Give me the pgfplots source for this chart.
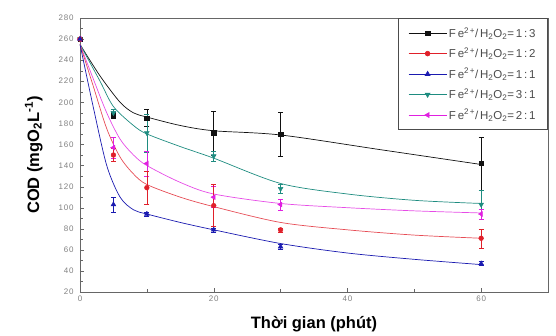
\documentclass[border=0pt]{standalone}
\usepackage{pgfplots}
\pgfplotsset{compat=1.18}
\usepackage{fontspec}
\setmainfont{Liberation Sans}
\newfontfamily\spaced[LetterSpace=10]{Liberation Sans}
\newfontfamily\lspaced[LetterSpace=16]{Liberation Sans}
\definecolor{cblack}{HTML}{111111}
\definecolor{cred}{HTML}{E0202A}
\definecolor{cblue}{HTML}{1A1AB0}
\definecolor{cteal}{HTML}{1E8C80}
\definecolor{cmag}{HTML}{E020E0}
\begin{document}
\begin{tikzpicture}
\path[use as bounding box] (-80pt,-43pt) rectangle (476pt,292pt);
\begin{axis}[
  at={(0,0)}, anchor=south west,
  scale only axis, width=468pt, height=274pt,
  xmin=0, xmax=70, ymin=20, ymax=280,
  xtick={0,20,40,60}, ytick={20,40,...,280},
  minor x tick num=1, minor y tick num=1,
  tick align=inside, xtick pos=bottom, ytick pos=left,
  axis line style={draw=black!60, line width=0.8pt},
  tick style={black!60},
  tick label style={font=\spaced\fontsize{8}{9}\selectfont, text=black!50},
  /pgf/number format/assume math mode=true,
  yticklabel style={xshift=-3pt},
  xlabel={\textbf{Thời gian (phút)}},
  ylabel={\textbf{COD (mgO\textsubscript{2}L\textsuperscript{-1})}},
  label style={font=\fontsize{16.5}{18}\selectfont},
  xlabel style={yshift=-8pt},
  ylabel style={yshift=9pt},
  legend style={at={(1,1)}, anchor=north east, draw=black!70, line width=0.8pt,
    font=\lspaced\fontsize{11.5}{13}\selectfont, text=black!70, row sep=5pt, inner xsep=10pt, inner ysep=7pt},
  legend cell align=left,
  legend image code/.code={\draw[mark repeat=2,mark phase=2, line width=0.6pt] plot coordinates {(0pt,0pt) (19pt,0pt) (38pt,0pt)};},
]
% legend images
\addlegendimage{cblack, mark=square*, mark size=2.2pt}
\addlegendentry{Fe\textsuperscript{2+}/H\textsubscript{2}O\textsubscript{2}=1:3}
\addlegendimage{cred, mark=*, mark size=2.4pt}
\addlegendentry{Fe\textsuperscript{2+}/H\textsubscript{2}O\textsubscript{2}=1:2}
\addlegendimage{cblue, mark=triangle*, mark size=2.8pt}
\addlegendentry{Fe\textsuperscript{2+}/H\textsubscript{2}O\textsubscript{2}=1:1}
\addlegendimage{cteal, mark=triangle*, mark options={rotate=180}, mark size=2.8pt}
\addlegendentry{Fe\textsuperscript{2+}/H\textsubscript{2}O\textsubscript{2}=3:1}
\addlegendimage{cmag, mark=triangle*, mark options={rotate=90}, mark size=2.8pt}
\addlegendentry{Fe\textsuperscript{2+}/H\textsubscript{2}O\textsubscript{2}=2:1}

% fitted curves
\addplot[cblack, line width=0.7pt, smooth, forget plot] coordinates {(0,255) (3,225) (6,200) (8,190) (10,186) (15,178) (20,173) (30,169) (45,155) (60,141)};
\addplot[cteal, line width=0.7pt, smooth, forget plot] coordinates {(0,255) (3,220) (5,196) (8,178) (10,170) (15,158) (20,147) (30,123) (40,113) (50,107) (60,104)};
\addplot[cmag!80, line width=0.7pt, smooth, forget plot] coordinates {(0,255) (2,222) (4,190) (6,165) (8,150) (10,140) (15,124) (20,113) (30,104) (40,100) (50,97) (60,95)};
\addplot[cred!80, line width=0.7pt, smooth, forget plot] coordinates {(0,255) (2,215) (4,175) (6,148) (8,132) (10,122) (15,110) (20,101) (30,86) (40,79) (50,74) (60,71)};
\addplot[cblue, line width=0.7pt, smooth, forget plot] coordinates {(0,255) (2,195) (4,140) (6,110) (8,98) (10,94) (15,86) (20,79) (30,66) (40,57) (50,51) (60,46)};

% data points with error bars
\addplot[cblack, only marks, mark=square*, mark size=2.2pt, forget plot,
  error bars/.cd, y dir=both, y explicit, error bar style={line width=0.6pt}, error mark options={rotate=90, mark size=2.5pt}]
  coordinates {(0,260) +- (0,2) (5,188) +- (0,3) (10,185) +- (0,8) (20,171) +- (0,21) (30,170) +- (0,21) (60,142) +- (0,25)};
\addplot[cteal, only marks, mark=triangle*, mark options={rotate=180}, mark size=2.8pt, forget plot,
  error bars/.cd, y dir=both, y explicit, error bar style={line width=0.6pt}, error mark options={rotate=90, mark size=2.5pt}]
  coordinates {(0,260) +- (0,2) (5,190) +- (0,3) (10,171) +- (0,18) (20,149) +- (0,5) (30,118) +- (0,4) (60,103) +- (0,14)};
\addplot[cmag, only marks, mark=triangle*, mark options={rotate=90}, mark size=2.8pt, forget plot,
  error bars/.cd, y dir=both, y explicit, error bar style={line width=0.6pt}, error mark options={rotate=90, mark size=2.5pt}]
  coordinates {(0,260) +- (0,2) (5,157) +- (0,10) (10,142) +- (0,12) (20,110) +- (0,10) (30,103) +- (0,5) (60,94) +- (0,5)};
\addplot[cred, only marks, mark=*, mark size=2.4pt, forget plot,
  error bars/.cd, y dir=both, y explicit, error bar style={line width=0.6pt}, error mark options={rotate=90, mark size=2.5pt}]
  coordinates {(0,260) +- (0,2) (5,150) +- (0,6) (10,119) +- (0,16) (20,102) +- (0,20) (30,79) +- (0,2) (60,71) +- (0,9)};
\addplot[cblue, only marks, mark=triangle*, mark size=2.8pt, forget plot,
  error bars/.cd, y dir=both, y explicit, error bar style={line width=0.6pt}, error mark options={rotate=90, mark size=2.5pt}]
  coordinates {(0,260) +- (0,2) (5,103) +- (0,7) (10,94) +- (0,2) (20,79) +- (0,2) (30,63) +- (0,2) (60,47) +- (0,2)};
\end{axis}
\end{tikzpicture}
\end{document}
